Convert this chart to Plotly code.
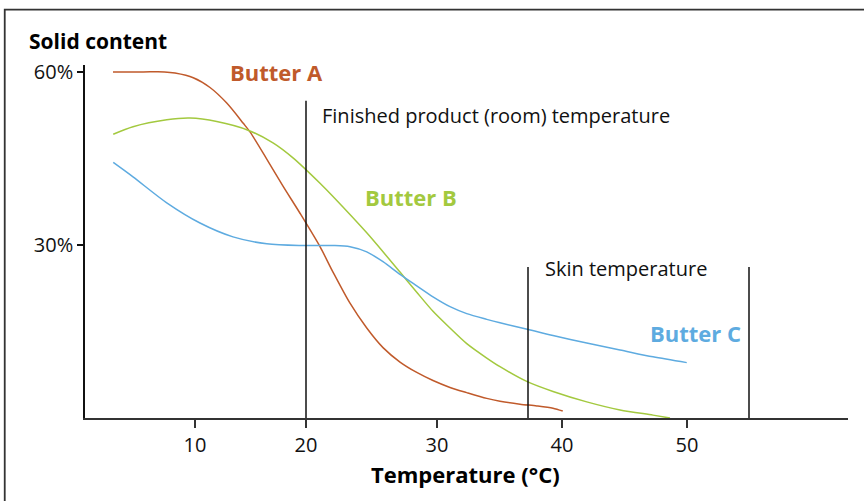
import plotly.graph_objects as go

# ---- data ----
temp_a = [4.08, 6.5, 8.2, 9.04, 10.5, 11.84, 13.18, 14.5, 15.04, 16.38, 17.68, 19.04, 20.64, 21.68, 23.04,
          24.38, 25.68, 27.04, 28.38, 29.68, 31.04, 32.38, 33.98, 35.04, 36.64, 37.98, 39.28, 40.06]
solid_a = [60, 60, 60, 59.8, 59.0, 57.3, 54.6, 51.1, 49.6, 44.9, 40.2, 35.5, 29.7, 25.3, 19.9,
           15.6, 12.2, 9.7, 7.9, 6.5, 5.3, 4.4, 3.4, 2.9, 2.4, 2.1, 1.7, 1.2]

temp_b = [4.1, 5.68, 8.38, 10.24, 12.38, 14.88, 16.88, 18.48, 20.64, 21.68, 24.38, 27.04,
          28.38, 29.68, 31.04, 32.38, 33.98, 35.04, 37.22, 39.28, 41.98, 44.64, 47.28, 48.64]
solid_b = [49.2, 50.5, 51.7, 52.0, 51.4, 49.9, 47.7, 45.1, 40.7, 38.4, 32.1, 25.3,
           21.8, 18.5, 15.6, 12.9, 10.4, 8.9, 6.3, 4.6, 2.8, 1.4, 0.5, 0.0]

temp_c = [4.1, 5.68, 8.38, 11.04, 13.68, 16.38, 19.04, 21.68, 23.04, 24.38, 25.68, 27.04, 28.38,
          29.68, 31.04, 32.38, 33.98, 35.04, 37.22, 39.28, 41.98, 44.64, 47.28, 49.98]
solid_c = [44.3, 41.8, 37.3, 33.8, 31.4, 30.2, 29.9, 29.9, 29.7, 28.8, 27.1, 24.9, 22.9,
           21.0, 19.3, 18.1, 17.1, 16.5, 15.4, 14.3, 13.0, 11.8, 10.6, 9.6]

x_tick_positions = [10.64, 19.52, 30, 40, 50]
x_tick_labels = ["10", "20", "30", "40", "50"]
y_tick_values = [30, 60]
y_tick_labels = ["30%", "60%"]

ref_temps = [19.52, 37.28, 54.96]
ref_heights = [55.0, 26.2, 26.2]

col_a = "#c05a2b"
col_b = "#a3c93f"
col_c = "#5eabe0"
FONT = "Open Sans"

fig = go.Figure()
for xs, ys, c in [(temp_a, solid_a, col_a), (temp_b, solid_b, col_b), (temp_c, solid_c, col_c)]:
    fig.add_trace(go.Scatter(x=xs, y=ys, mode="lines",
                             line=dict(color=c, width=1.5, shape="spline", smoothing=0.8),
                             hoverinfo="skip", showlegend=False))

for xv, hv in zip(ref_temps, ref_heights):
    fig.add_shape(type="line", xref="x", yref="y", x0=xv, x1=xv, y0=0, y1=hv,
                  line=dict(color="#111111", width=1.5))

# frame around the figure (left and top edges visible)
fig.add_shape(type="rect", xref="paper", yref="paper",
              x0=-0.1052, x1=1.1, y0=-0.4, y1=1.157,
              line=dict(color="#333333", width=1.8), fillcolor="rgba(0,0,0,0)", layer="below")

ann = [
    dict(text="<b>Butter A</b>", x=13.28, y=60.0, color=col_a, size=22),
    dict(text="<b>Butter B</b>", x=24.08, y=38.3, color=col_b, size=22),
    dict(text="<b>Butter C</b>", x=46.88, y=14.7, color=col_c, size=22),
    dict(text="Finished product (room) temperature", x=20.64, y=52.4, color="#111111", size=20),
    dict(text="Skin temperature", x=38.48, y=26.0, color="#111111", size=20),
]
for a in ann:
    fig.add_annotation(text=a["text"], x=a["x"], y=a["y"], xref="x", yref="y",
                       xanchor="left", yanchor="middle", showarrow=False,
                       font=dict(family=FONT, size=a["size"], color=a["color"]))

fig.add_annotation(text="<b>Solid content</b>", x=-0.076, y=1.068, xref="paper", yref="paper",
                   xanchor="left", yanchor="middle", showarrow=False,
                   font=dict(family=FONT, size=21, color="#000000"))
fig.add_annotation(text="<b>Temperature (°C)</b>", x=0.4993, y=-0.1586, xref="paper", yref="paper",
                   xanchor="center", yanchor="middle", showarrow=False,
                   font=dict(family=FONT, size=22, color="#000000"))

fig.update_layout(
    width=864, height=501,
    margin=dict(l=85, r=16, t=65, b=83),
    paper_bgcolor="white", plot_bgcolor="white",
    font=dict(family=FONT, size=16, color="#111111"),
    xaxis=dict(range=[1.84, 62.88], showgrid=False, zeroline=False,
               showline=True, linecolor="#333333", linewidth=1.5,
               tickmode="array", tickvals=x_tick_positions, ticktext=x_tick_labels,
               ticks="outside", ticklen=8, tickwidth=1.5, tickcolor="#333333",
               tickfont=dict(family=FONT, size=20, color="#111111")),
    yaxis=dict(range=[0, 61.2], showgrid=False, zeroline=False,
               showline=True, linecolor="#111111", linewidth=1.5,
               tickmode="array", tickvals=y_tick_values, ticktext=y_tick_labels,
               ticks="outside", ticklen=6, tickwidth=1.5, tickcolor="#111111",
               tickfont=dict(family=FONT, size=20, color="#111111")),
)

fig.write_html("out.html", config={"displayModeBar": False},
               post_script="document.body.style.margin='0';document.body.style.overflow='hidden';")
